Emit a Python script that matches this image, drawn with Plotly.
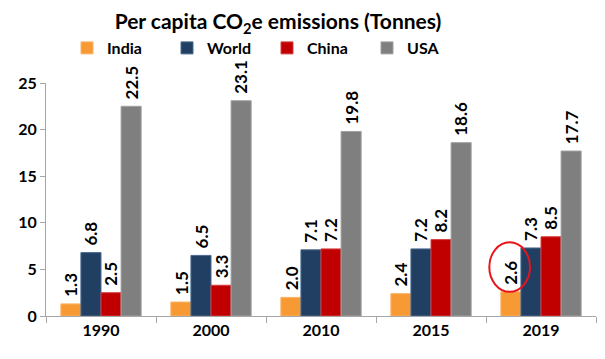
import plotly.graph_objects as go

years = ["1990", "2000", "2010", "2015", "2019"]
india = [1.3, 1.5, 2.0, 2.4, 2.6]
world = [6.8, 6.5, 7.1, 7.2, 7.3]
china = [2.5, 3.3, 7.2, 8.2, 8.5]
usa = [22.5, 23.1, 19.8, 18.6, 17.7]

series = [
    ("India", india, "#F89A33", "#FAB46A"),
    ("World", world, "#213F63", "#4A6A90"),
    ("China", china, "#C00000", "#D84040"),
    ("USA", usa, "#7F7F7F", "#A0A0A0"),
]

FONT = "Lato"
bargap = 0.27

# the page body adds an 8px offset; figure is sized to fit the 605x359 window
W, H = 597, 351

fig = go.Figure()
for name, vals, col, edge in series:
    fig.add_trace(go.Bar(
        name=name, x=years, y=vals,
        marker=dict(color=col, line=dict(width=1, color=edge)),
    ))

# data labels above bars, rotated
n = len(series)
w = (1 - bargap) / n
for k, (name, vals, col, edge) in enumerate(series):
    off = -(1 - bargap) / 2 + w * (k + 0.5)
    for i, v in enumerate(vals):
        fig.add_annotation(
            x=i + off, y=v, xref="x", yref="y",
            text=f"{v:.1f}", textangle=-90, showarrow=False,
            xanchor="center", yanchor="bottom", yshift=5,
            font=dict(family=FONT, size=17, color="#000000", weight="bold"),
        )

# red ellipse highlighting India 2019
i19 = years.index("2019")
fig.add_shape(
    type="circle", xref="x", yref="y",
    x0=i19 - 0.47, x1=i19 - 0.10, y0=india[i19], y1=india[i19] + 5.3,
    line=dict(color="#E8141B", width=2), layer="above",
)

fig.update_layout(
    width=W, height=H,
    margin=dict(l=38, r=9, t=75, b=43, autoexpand=False),
    paper_bgcolor="white", plot_bgcolor="white",
    barmode="group", bargap=bargap, bargroupgap=0,
    title=dict(
        text="Per capita CO<sub>2</sub>e emissions (Tonnes)",
        x=270 / W, xanchor="center", xref="container",
        y=1 - 14 / H, yanchor="middle", yref="container",
        font=dict(family=FONT, size=21, color="#000000", weight="bold"),
    ),
    legend=dict(
        orientation="h", xref="container", yref="container",
        x=59 / W, xanchor="left", y=1 - 40 / H, yanchor="middle",
        entrywidth=55, entrywidthmode="pixels", itemwidth=30,
        font=dict(family=FONT, size=16, color="#000000", weight="bold"),
        bgcolor="rgba(0,0,0,0)",
    ),
    xaxis=dict(
        type="category", tickson="boundaries", ticks="outside", ticklen=6,
        tickcolor="#A6A6A6", showline=True, linecolor="#A6A6A6", linewidth=1,
        showgrid=False, tickfont=dict(family=FONT, size=16, color="#000000", weight="bold"),
    ),
    yaxis=dict(
        range=[0, 25], tickvals=[0, 5, 10, 15, 20, 25], ticks="outside", ticklen=5,
        tickcolor="#A6A6A6", showline=True, linecolor="#A6A6A6", linewidth=1,
        showgrid=False, zeroline=False,
        tickfont=dict(family=FONT, size=16, color="#000000", weight="bold"),
    ),
)

fig.write_html("out.html")
